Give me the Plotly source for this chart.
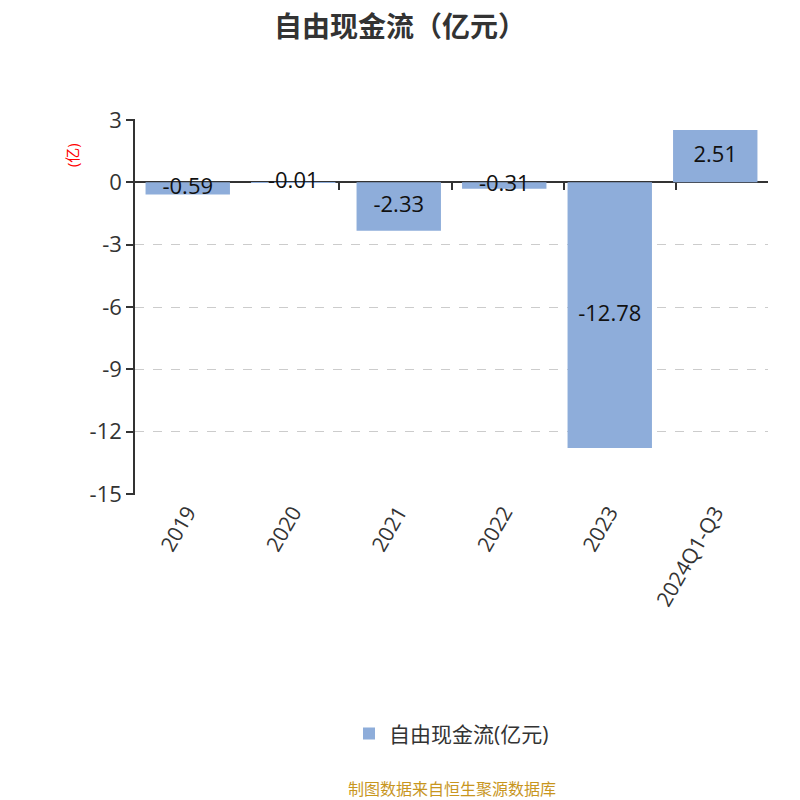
import plotly.graph_objects as go

categories = ["2019", "2020", "2021", "2022", "2023", "2024Q1-Q3"]
values = [-0.59, -0.01, -2.33, -0.31, -12.78, 2.51]
labels = ["-0.59", "-0.01", "-2.33", "-0.31", "-12.78", "2.51"]
y_ticks = [3, 0, -3, -6, -9, -12, -15]

FONT = "Open Sans, Noto Sans CJK SC, sans-serif"
BAR = "#8EADDA"
y_min, y_max = -15, 3
pad = 0.04

fig = go.Figure()
fig.add_trace(go.Bar(
    x=categories, y=values, name="自由现金流(亿元)",
    marker=dict(color=BAR, line=dict(width=0)),
    hoverinfo="skip",
))
# zero-line axis with boundary ticks
fig.add_trace(go.Scatter(x=categories, y=[None] * len(categories), xaxis="x2",
                         showlegend=False, hoverinfo="skip"))
fig.add_trace(go.Scatter(
    x=categories, y=[v / 2 for v in values], mode="text",
    text=labels, textposition="middle center",
    textfont=dict(size=22, color="#111111", family=FONT),
    showlegend=False, hoverinfo="skip", cliponaxis=False,
))

fig.update_layout(
    width=800, height=800,
    paper_bgcolor="white", plot_bgcolor="white",
    margin=dict(l=127, r=40, t=111, b=313),
    font=dict(family=FONT, color="#333333"),
    title=dict(text="<b>自由现金流（亿元）</b>", x=0.49, xanchor="center",
               y=0.976, yanchor="middle", font=dict(size=28, color="#333333")),
    bargap=0.2,
    showlegend=True,
    legend=dict(orientation="h", x=0.5, xanchor="center", y=-0.635, yanchor="middle",
                font=dict(size=21, color="#333333"), itemsizing="constant"),
    xaxis=dict(
        type="category", showline=False, ticks="", showgrid=False, zeroline=False,
        tickangle=-60, tickfont=dict(size=21, color="#333333"),
    ),
    xaxis2=dict(
        type="category", overlaying="x", anchor="free", layer="below traces",
        position=(0 - (y_min - pad)) / ((y_max + pad) - (y_min - pad)),
        showline=True, linecolor="#333333", linewidth=1.5,
        ticks="outside", tickson="boundaries", ticklen=7, tickcolor="#333333", tickwidth=1.5,
        showticklabels=False, showgrid=False, zeroline=False, side="bottom",
    ),
    yaxis=dict(
        range=[y_min - pad, y_max + pad], tickvals=y_ticks, ticktext=[str(t) for t in y_ticks],
        showline=True, linecolor="#333333", linewidth=1.5,
        ticks="outside", ticklen=7, tickcolor="#333333", tickwidth=1.5,
        tickfont=dict(size=22, color="#333333"),
        showgrid=True, gridcolor="#cccccc", griddash="dash", gridwidth=1.2,
        zeroline=False,
    ),
    annotations=[
        dict(text="(亿)", xref="paper", yref="paper", x=-0.0995, y=0.904,
             xanchor="center", yanchor="middle", textangle=-90, showarrow=False,
             font=dict(size=15, color="red")),
        dict(text="制图数据来自恒生聚源数据库", xref="paper", yref="paper",
             x=0.5, xanchor="center", y=-0.782, yanchor="middle", showarrow=False,
             font=dict(size=16, color="#C8961E")),
    ],
)

fig.write_html("out.html")
